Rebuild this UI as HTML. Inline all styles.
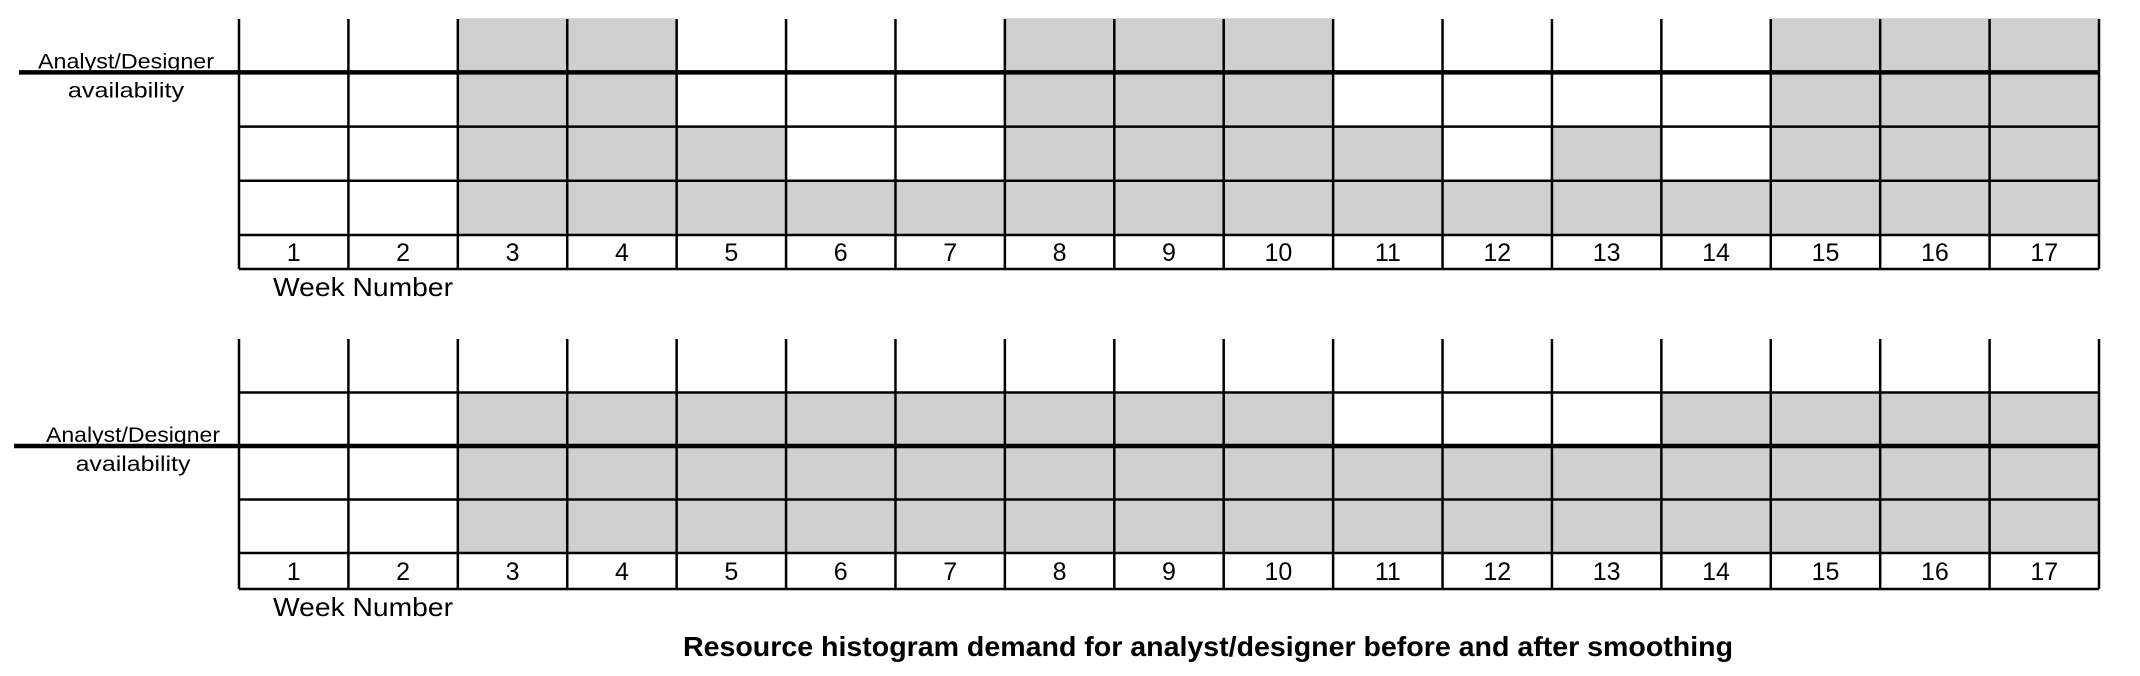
<!DOCTYPE html>
<html><head><meta charset="utf-8"><style>
html,body{margin:0;padding:0;background:#fff;}
svg{display:block;}
text{font-family:"Liberation Sans Narrow","Liberation Sans",sans-serif;fill:#000;}
</style></head><body>
<svg id="chart" width="2140" height="676" viewBox="0 0 2140 676" xmlns="http://www.w3.org/2000/svg">
<text x="1208" y="656" text-anchor="middle" font-size="28" font-weight="bold" textLength="1050" lengthAdjust="spacingAndGlyphs">Resource histogram demand for analyst/designer before and after smoothing</text>
</svg>
<script>
const weeks = [1,2,3,4,5,6,7,8,9,10,11,12,13,14,15,16,17];
const demandBefore = [0,0,4,4,2,1,1,4,4,4,2,1,2,1,4,4,4];
const demandAfter = [0,0,3,3,3,3,3,3,3,3,2,2,2,3,3,3,3];
const availability = [3,2];
const NS='http://www.w3.org/2000/svg';
const svg=document.getElementById('chart');
function mk(tag,attrs,parent){const e=document.createElementNS(NS,tag);for(const k in attrs)e.setAttribute(k,attrs[k]);(parent||svg).appendChild(e);return e;}
const left=239,right=2099,colW=(right-left)/weeks.length;
function xPos(i){return left+i*colW;}
function drawChart(opts,data,avail,idx){
  const g=mk('g',{});
  
  
  const base=opts.base,rowH=opts.rowH,top=opts.top,rows=opts.rows;
  function yPos(v){return base-v*rowH;}
  data.forEach((v,i)=>{
    if(v>0){
      const r=mk('rect',{x:xPos(i),y:yPos(v),width:colW,height:v*rowH,fill:'#d0cfd0'},g);
      
      
    }
  });
  for(let k=1;k<=rows;k++){
    const y=yPos(k);
    if(y>top+2) mk('line',{x1:left,x2:right,y1:y,y2:y,stroke:'#000','stroke-width':2.5},g);
  }
  mk('line',{x1:left,x2:right,y1:base,y2:base,stroke:'#000','stroke-width':2.5},g);
  mk('line',{x1:left,x2:right,y1:opts.labBot,y2:opts.labBot,stroke:'#000','stroke-width':2.5},g);
  for(let i=0;i<=weeks.length;i++){
    mk('line',{x1:xPos(i),x2:xPos(i),y1:top,y2:opts.labBot,stroke:'#000','stroke-width':2.5},g);
  }
  weeks.forEach((w,i)=>{
    const t=mk('text',{x:xPos(i)+colW/2,y:(base+opts.labBot)/2+9,'text-anchor':'middle','font-size':25},g);
    t.textContent=w;
    
    
  });
  const ay=yPos(avail);
  const al=mk('line',{x1:opts.lineStart,x2:right,y1:ay,y2:ay,stroke:'#000','stroke-width':4.5},g);
  
  
  const t1=mk('text',{x:opts.labX,y:ay-4,'text-anchor':'middle','font-size':21,textLength:opts.labW,lengthAdjust:'spacingAndGlyphs'},g);
  t1.textContent='Analyst/Designer';
  
  
  const t2=mk('text',{x:opts.labX,y:ay+25,'text-anchor':'middle','font-size':21,textLength:opts.labW*0.66,lengthAdjust:'spacingAndGlyphs'},g);
  t2.textContent='availability';
  
  
  const wn=mk('text',{x:363,y:opts.labBot+27,'text-anchor':'middle','font-size':26,textLength:180,lengthAdjust:'spacingAndGlyphs'},g);
  wn.textContent='Week Number';
  
  
}
drawChart({base:235,rowH:54.2,top:19,rows:4,labBot:269,lineStart:19,labX:126,labW:176},demandBefore,availability[0],0);
drawChart({base:553,rowH:53.5,top:339,rows:4,labBot:589,lineStart:14,labX:133,labW:174},demandAfter,availability[1],1);
</script>
</body></html>
